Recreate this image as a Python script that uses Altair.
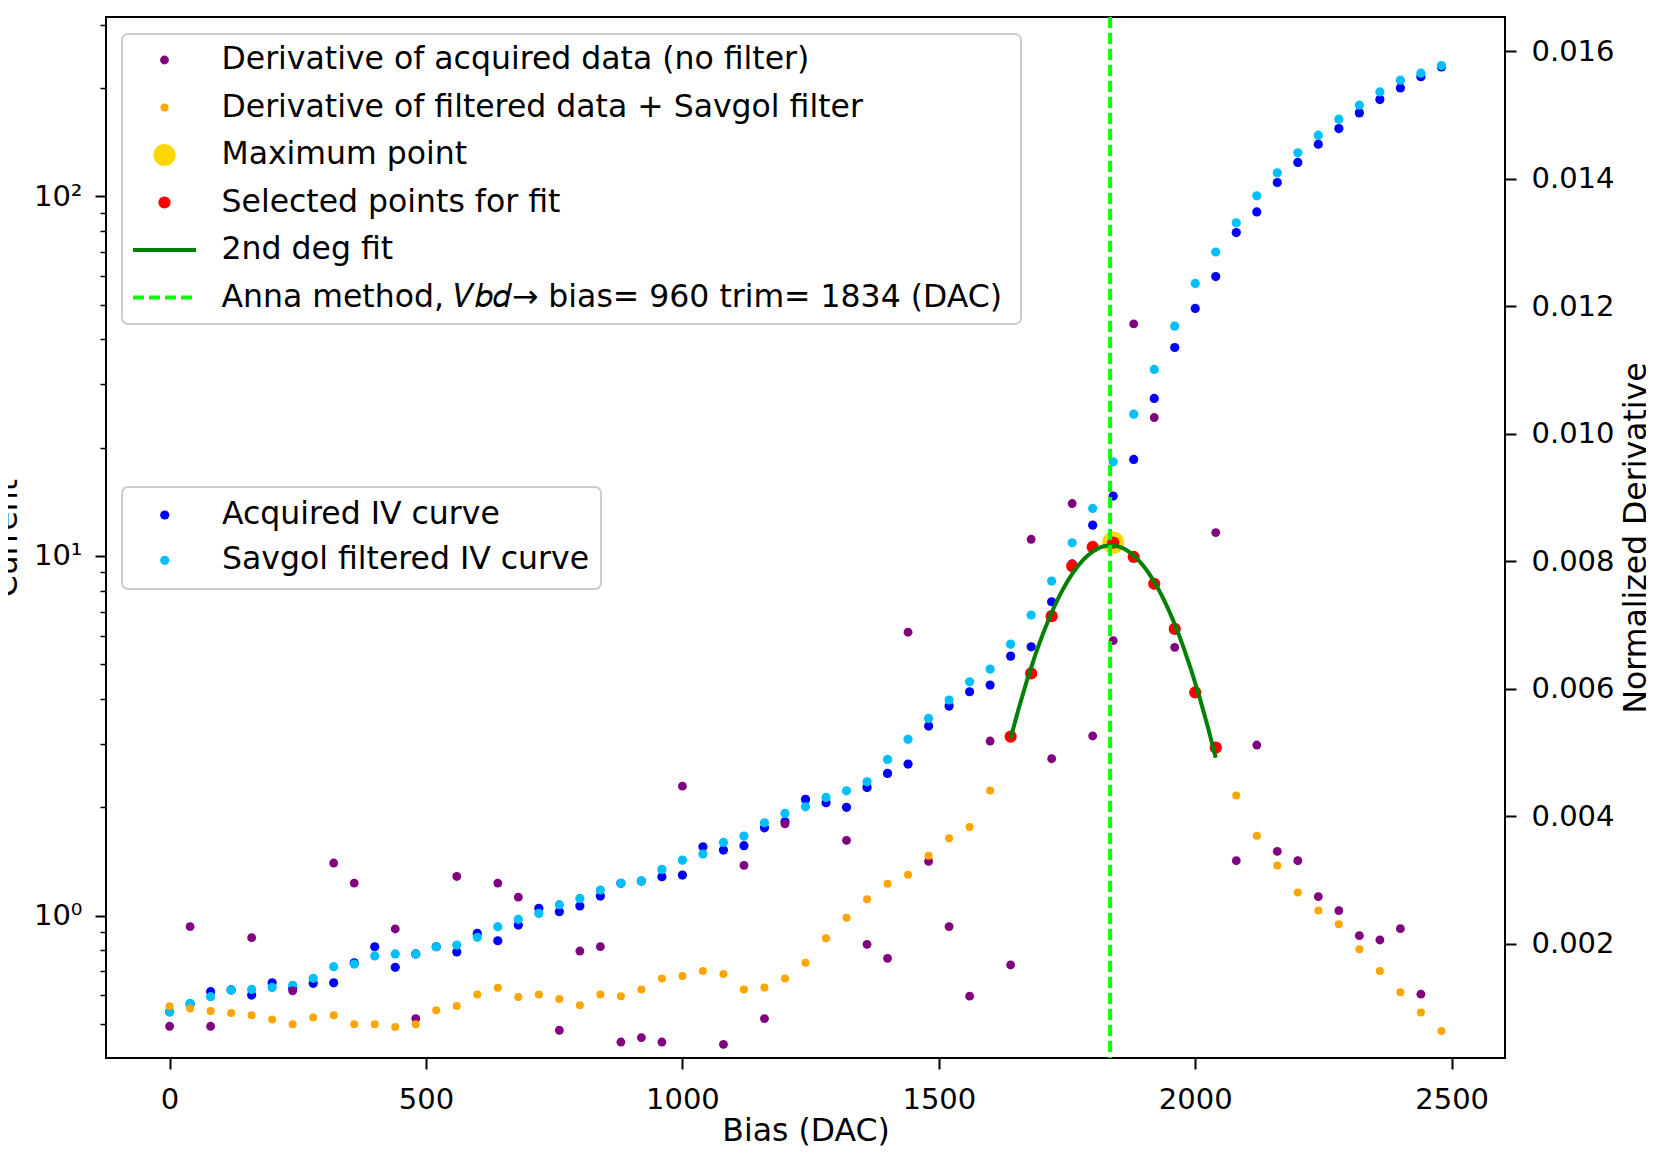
import altair as alt
import pandas as pd

# ---------------- data ----------------
bias_dac = [0, 40, 80, 120, 160, 200, 240, 280, 320, 360, 400, 440, 480, 520, 560, 600,
            640, 680, 720, 760, 800, 840, 880, 920, 960, 1000, 1040, 1080, 1120, 1160, 1200,
            1240, 1280, 1320, 1360, 1400, 1440, 1480, 1520, 1560, 1600, 1640, 1680, 1720,
            1760, 1800, 1840, 1880, 1920, 1960, 2000, 2040, 2080, 2120, 2160, 2200, 2240,
            2280, 2320, 2360, 2400, 2440, 2480]

acquired_iv = [0.540, 0.568, 0.614, 0.621, 0.601, 0.650, 0.628, 0.648, 0.650, 0.739, 0.819,
               0.718, 0.782, 0.819, 0.792, 0.892, 0.851, 0.941, 1.047, 1.025, 1.063, 1.133,
               1.229, 1.247, 1.282, 1.296, 1.553, 1.521, 1.564, 1.754, 1.823, 2.104, 2.059,
               2.000, 2.272, 2.485, 2.637, 3.364, 3.823, 4.191, 4.373, 5.265, 5.589, 7.457,
               9.5, 12.18, 14.67, 18.55, 27.41, 37.98, 48.76, 59.8, 79.3, 90.5, 109.2, 124.2,
               139.6, 154.3, 170.6, 185.8, 200.2, 215.0, 229.0]

savgol_iv = [0.540, 0.570, 0.595, 0.621, 0.623, 0.631, 0.640, 0.669, 0.721, 0.733, 0.772,
             0.782, 0.782, 0.819, 0.828, 0.870, 0.931, 0.976, 1.014, 1.072, 1.116, 1.177,
             1.229, 1.247, 1.344, 1.426, 1.483, 1.597, 1.663, 1.811, 1.923, 2.006, 2.131,
             2.223, 2.355, 2.718, 3.090, 3.532, 3.973, 4.467, 4.845, 5.685, 6.846, 8.511,
             10.88, 13.55, 18.27, 24.79, 33.0, 43.55, 57.23, 70.0, 84.4, 100.3, 116.2, 132.1,
             147.9, 163.8, 179.2, 195.1, 210.3, 220.0, 231.0]

deriv_acquired = [0.000701, 0.002265, 0.000701, None, 0.002092, None, 0.001257, None,
                  0.003263, 0.002948, None, 0.002228, 0.000822, None, 0.003052, None,
                  0.002948, 0.002727, None, 0.000638, 0.001882, 0.001950, 0.000454,
                  0.000523, 0.000454, 0.004469, None, 0.000417, 0.003225, 0.000822,
                  0.003877, None, None, 0.003619, 0.001987, 0.001767, 0.006885, 0.003288,
                  0.002265, 0.001173, 0.005178, 0.001663, 0.008344, 0.004900, 0.008905,
                  0.005257, 0.006753, 0.011724, 0.010255, 0.006648, None, 0.008449,
                  0.003299, 0.005115, 0.003446, 0.003299, 0.002737, 0.002517, 0.002123,
                  0.002055, 0.002233, 0.001205, None]

deriv_savgol = [0.001016, 0.000980, 0.000942, 0.000910, 0.000874, 0.000806, 0.000732,
                0.000838, 0.000874, 0.000732, 0.000732, 0.000690, 0.000732, 0.000953,
                0.001020, 0.001200, 0.001304, 0.001162, 0.001200, 0.001130, 0.001031,
                0.001200, 0.001173, 0.001278, 0.001451, 0.001488, 0.001567, 0.001520,
                0.001278, 0.001310, 0.001451, 0.001698, 0.002082, 0.002406, 0.002696,
                0.002937, 0.003079, 0.003378, 0.003650, 0.003830, 0.004402, 0.005247,
                0.006239, 0.007137, 0.007924, 0.008223, 0.008291, 0.008066, 0.007646,
                0.006937, 0.005940, 0.005074, 0.004323, 0.003693, 0.003226, 0.002800,
                0.002517, 0.002302, 0.001908, 0.001567, 0.001236, 0.000916, 0.000627]

fit_start, fit_stop = 41, 52      # selected points for the fit (indices)
max_index = 46                     # maximum point
anna_trim = 1834                   # vertical line position (DAC)

left_ticks = [0.5, 0.6, 0.7, 0.8, 0.9, 1, 2, 3, 4, 5, 6, 7, 8, 9,
              10, 20, 30, 40, 50, 60, 70, 80, 90, 100, 200, 300]
right_ticks = [0.002, 0.004, 0.006, 0.008, 0.010, 0.012, 0.014, 0.016]
x_ticks = [0, 500, 1000, 1500, 2000, 2500]

LBL_RAW = "Derivative of acquired data (no filter)"
LBL_SAV = "Derivative of filtered data + Savgol filter"
LBL_MAX = "Maximum point"
LBL_SEL = "Selected points for fit"
LBL_FIT = "2nd deg fit"
LBL_ANNA = "Anna method, \U0001D449\U0001D44F\U0001D451\u2192  bias= 960 trim= 1834 (DAC)"
LBL_ACQ = "Acquired IV curve"
LBL_SGIV = "Savgol filtered IV curve"

right_labels = [LBL_RAW, LBL_SAV, LBL_MAX, LBL_SEL, LBL_FIT, LBL_ANNA]
right_fills = ["purple", "orange", "gold", "red", "transparent", "transparent"]
right_strokes = ["transparent", "transparent", "transparent", "transparent", "green", "lime"]
right_shapes = ["circle", "circle", "circle", "circle", "stroke", "stroke"]
right_sizes = [78, 64, 490, 150, 3969, 3969]
right_dashes = [[1, 0], [1, 0], [1, 0], [1, 0], [1, 0], [11, 5]]
right_widths = [0, 0, 0, 0, 4, 4]
left_labels = [LBL_ACQ, LBL_SGIV]
left_colors = ["blue", "deepskyblue"]

FONT = "DejaVu Sans"

# ---------------- tables ----------------
n = len(bias_dac)
iv_df = pd.DataFrame({
    "x": bias_dac + bias_dac,
    "current": acquired_iv + savgol_iv,
    "series": [LBL_ACQ] * n + [LBL_SGIV] * n,
})
raw_df = pd.DataFrame({"x": bias_dac, "D": deriv_acquired, "series": LBL_RAW}).dropna()
sav_df = pd.DataFrame({"x": bias_dac, "D": deriv_savgol, "series": LBL_SAV})
sel_df = pd.DataFrame({"x": bias_dac[fit_start:fit_stop],
                       "D": deriv_savgol[fit_start:fit_stop], "series": LBL_SEL})
max_df = pd.DataFrame({"x": [bias_dac[max_index]], "D": [deriv_savgol[max_index]],
                       "series": [LBL_MAX]})
anna_df = pd.DataFrame({"x": [anna_trim], "series": [LBL_ANNA]})

# ---------------- legends ----------------
upper_legend = alt.Legend(
    orient="none", legendX=16, legendY=17, title=None,
    labelFont=FONT, labelFontSize=31.5, labelColor="black", labelLimit=3000,
    labelOffset=23.5, clipHeight=34, padding=9, rowPadding=13.5, symbolOpacity=1,
    symbolFillColor="transparent",
    fillColor="rgba(255,255,255,0.8)", strokeColor="#cccccc", cornerRadius=6,
)
lower_legend = alt.Legend(
    orient="none", legendX=16, legendY=470, title=None,
    labelFont=FONT, labelFontSize=31.5, labelColor="black", labelLimit=3000,
    symbolType="circle", symbolSize=85, symbolStrokeWidth=0, symbolOpacity=1,
    symbolOffset=16, labelOffset=41.5, clipHeight=34, padding=11, rowPadding=11.3,
    fillColor="rgba(255,255,255,0.8)", strokeColor="#cccccc", cornerRadius=6,
)

# ---------------- encodings ----------------
x_enc = alt.X(
    "x:Q",
    scale=alt.Scale(domain=[-124, 2604], nice=False, zero=False),
    axis=alt.Axis(values=x_ticks, format="d", title="Bias (DAC)", labelFontSize=29,
                  labelPadding=16, tickSize=11, tickWidth=2, titleFontSize=31.5, titleY=82,
                  titleBaseline="alphabetic", titleAlign="center"),
)

is_major = "datum.value == 1 || datum.value == 10 || datum.value == 100"
left_axis = alt.Axis(
    orient="left", values=left_ticks, labelOverlap=False,
    labelExpr="datum.value == 1 ? '10\u2070' : datum.value == 10 ? '10\u00b9' : datum.value == 100 ? '10\u00b2' : ''",
    tickSize={"condition": {"test": is_major, "value": 11}, "value": 6},
    tickWidth={"condition": {"test": is_major, "value": 2}, "value": 1.5},
    labelFontSize=29, labelPadding=13, title="Current", titleFontSize=31.5,
    titleAngle=270, titleX=-90, titleY=520.5, titleBaseline="alphabetic", titleAlign="center",
)
right_axis = alt.Axis(
    orient="right", values=right_ticks, format=".3f", labelOverlap=False,
    tickSize=11, tickWidth=2, labelFontSize=29, labelPadding=15,
    title="Normalized Derivative", titleFontSize=31.5, titleAngle=270, titleX=140,
    titleY=520.5, titleBaseline="alphabetic", titleAlign="center",
)

y_left = alt.Y("current:Q", scale=alt.Scale(type="log", domain=[0.4017, 315.2], nice=False),
               axis=left_axis)
y_right = alt.Y("D:Q", scale=alt.Scale(domain=[0.000203, 0.016541], nice=False, zero=False),
                axis=right_axis)

fill_right = alt.Fill("series:N", scale=alt.Scale(domain=right_labels, range=right_fills),
                      legend=upper_legend)
stroke_right = alt.Stroke("series:N", scale=alt.Scale(domain=right_labels, range=right_strokes),
                          legend=upper_legend)
shape_right = alt.Shape("series:N", scale=alt.Scale(domain=right_labels, range=right_shapes),
                        legend=upper_legend)
size_right = alt.Size("series:N", scale=alt.Scale(type="ordinal", domain=right_labels,
                                                  range=right_sizes), legend=upper_legend)
dash_right = alt.StrokeDash("series:N", scale=alt.Scale(domain=right_labels, range=right_dashes),
                            legend=upper_legend)
width_right = alt.StrokeWidth("series:N", scale=alt.Scale(type="ordinal", domain=right_labels,
                                                          range=right_widths),
                              legend=upper_legend)
color_left = alt.Color("series:N", scale=alt.Scale(domain=left_labels, range=left_colors),
                       legend=lower_legend)

# ---------------- layers ----------------
iv_layer = alt.Chart(iv_df).mark_point(filled=True, size=85, opacity=1).encode(
    x=x_enc, y=y_left, color=color_left)


def point_layer(df):
    return alt.Chart(df).mark_point(filled=True, opacity=1).encode(
        x=x_enc, y=y_right, fill=fill_right, shape=shape_right, size=size_right)


raw_layer = point_layer(raw_df)
sav_layer = point_layer(sav_df)
max_layer = point_layer(max_df)
sel_layer = point_layer(sel_df)
fit_layer = alt.Chart(sel_df).transform_regression(
    "x", "D", method="poly", order=2,
    extent=[bias_dac[fit_start], bias_dac[fit_stop - 1]],
).transform_calculate(series="'" + LBL_FIT + "'").mark_line().encode(
    x=x_enc, y=y_right, stroke=stroke_right, strokeDash=dash_right, strokeWidth=width_right)
anna_layer = alt.Chart(anna_df).mark_rule().encode(
    x=x_enc, stroke=stroke_right, strokeDash=dash_right, strokeWidth=width_right)

right = alt.layer(raw_layer, sav_layer, max_layer, sel_layer, fit_layer, anna_layer)

chart = alt.layer(iv_layer, right).resolve_scale(
    y="independent"
).properties(
    width=1399, height=1041,
    autosize=alt.AutoSizeParams(type="none"),
    padding={"left": 98, "top": 9, "right": 141, "bottom": 88},
).configure(font=FONT).configure_view(
    stroke="black", strokeWidth=2
).configure_axis(
    domain=False, grid=False, labelColor="black", titleColor="black", tickColor="black",
    labelFont=FONT, titleFont=FONT, titleFontWeight="normal",
).configure_legend(strokeWidth=2)

chart.save("out.html", embed_options={"renderer": "svg", "actions": False})
